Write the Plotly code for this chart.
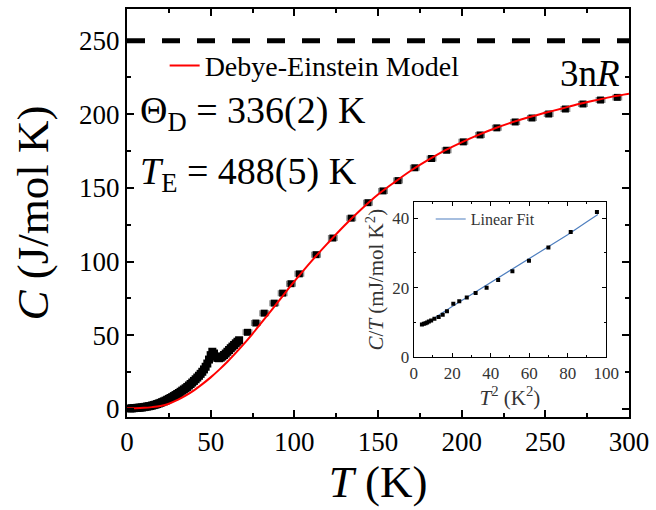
import plotly.graph_objects as go

# ---- main data: dense low-T heat capacity ----
T_dense = list(range(2, 68))
C_dense = [0.3, 0.4, 0.5, 0.6, 0.7, 0.8, 0.9, 1.0, 1.2, 1.4, 1.6, 1.8, 2.0, 2.3, 2.6, 2.9,
           3.3, 3.7, 4.1, 4.6, 5.1, 5.6, 6.2, 6.8, 7.4, 8.0, 8.7, 9.4, 10.1, 10.8, 11.6,
           12.4, 13.2, 14.0, 14.9, 15.9, 16.9, 17.9, 19.0, 20.1, 21.3, 22.5, 23.8, 25.2,
           26.8, 28.6, 30.8, 33.5, 36.5, 38.8, 37.6, 35.5, 34.6, 34.4, 34.8, 35.6, 36.6,
           37.6, 38.8, 40.0, 41.2, 42.3, 43.4, 44.5, 45.6, 46.6]

# ---- main data: sparse high-T points ----
T_high = [72, 77, 82, 88, 93, 98, 103, 113, 123, 134, 144, 153, 162, 172, 182, 191,
          201, 211, 221, 232, 242, 252, 262, 272.5, 283, 293]
C_high = [52, 58.3, 65, 71.8, 78.6, 85, 91.7, 104.7, 116, 129.5, 140, 148, 155, 163.7,
          170, 175.6, 181.3, 186, 190.8, 194.8, 197.5, 200.2, 203.6, 207, 209.7, 211.5]
T_err = [2.5] * len(T_high)

# ---- Debye-Einstein model curve ----
T_model = [0, 5, 10, 15, 20, 25, 30, 35, 40, 45, 50, 55, 60, 65, 70, 75, 80, 90, 100,
           110, 120, 130, 140, 150, 160, 170, 180, 190, 200, 210, 220, 230, 240, 250,
           260, 270, 280, 290, 300]
C_model = [0.5, 0.5, 0.7, 1.2, 2.0, 3.5, 6.0, 9.0, 12.6, 16.8, 21.4, 26.5, 32.0, 38.0,
           44.3, 51.0, 58.0, 72.3, 86.5, 100.0, 112.5, 124.5, 135.5, 145.5, 154.0, 162.0,
           169.0, 175.5, 181.0, 186.0, 190.5, 194.5, 198.0, 201.0, 204.0, 207.0, 209.5,
           212.0, 214.0]

# ---- Dulong-Petit limit ----
T_limit = [0, 300]
C_limit = [250, 250]

# ---- inset data ----
T2_in = [4.3, 5.3, 6.2, 7.0, 7.9, 9.1, 10.8, 13.0, 15.1, 17.3, 20.6, 23.7, 27.6, 32.2,
         37.9, 43.9, 51.3, 59.9, 70.0, 81.6, 95.2]
CT_in = [9.45, 9.6, 9.8, 10.0, 10.3, 10.6, 11.1, 11.6, 12.2, 13.2, 15.4, 16.1, 17.2, 18.5,
         20.0, 22.2, 24.7, 27.7, 31.5, 36.0, 41.7]
T2_fit = [4.3, 10, 20, 30, 40, 50, 60, 70, 80, 90, 95.7]
CT_fit = [9.1, 11.0, 14.6, 18.0, 21.4, 24.9, 28.2, 31.7, 35.2, 38.9, 41.0]

x_ticks = [0, 50, 100, 150, 200, 250, 300]
y_ticks = [0, 50, 100, 150, 200, 250]
x2_ticks = [0, 20, 40, 60, 80, 100]
y2_ticks = [0, 20, 40]

FONT = "'Liberation Serif', 'Times New Roman', Times, serif"

fig = go.Figure()

fig.add_trace(go.Scatter(x=T_limit, y=C_limit, mode="lines", showlegend=False,
                         line=dict(color="black", width=5, dash="18px,17px"),
                         hoverinfo="skip"))
fig.add_trace(go.Scatter(x=T_dense, y=C_dense, mode="markers", showlegend=False,
                         marker=dict(symbol="square", size=8, color="black")))
fig.add_trace(go.Scatter(x=T_high, y=C_high, mode="markers", showlegend=False,
                         marker=dict(symbol="square", size=7, color="black"),
                         error_x=dict(type="data", array=T_err, color="#8a8a8a",
                                      thickness=1.5, width=3)))
fig.add_trace(go.Scatter(x=T_model, y=C_model, mode="lines", name="Debye-Einstein Model",
                         line=dict(color="red", width=2, shape="spline"),
                         legend="legend"))

fig.add_trace(go.Scatter(x=T2_fit, y=CT_fit, mode="lines", name="Linear Fit",
                         line=dict(color="#4f7fbf", width=1.2),
                         xaxis="x2", yaxis="y2", legend="legend2"))
fig.add_trace(go.Scatter(x=T2_in, y=CT_in, mode="markers", showlegend=False,
                         marker=dict(symbol="square", size=4, color="black"),
                         xaxis="x2", yaxis="y2"))

axis_common = dict(showgrid=False, zeroline=False, showline=True, linecolor="black",
                   mirror="allticks", ticks="inside", tickcolor="black")

fig.update_layout(
    width=656, height=510,
    margin=dict(l=127, r=23, t=7, b=93),
    paper_bgcolor="white", plot_bgcolor="white",
    font=dict(family=FONT, color="black"),
    xaxis=dict(**axis_common, range=[0, 300], tickvals=x_ticks, linewidth=2,
               tickwidth=2, ticklen=7,
               minor=dict(ticks="inside", dtick=25, tick0=0, ticklen=4, tickwidth=2,
                          tickcolor="black"),
               tickfont=dict(size=27, family=FONT),
               title=dict(text="<i>T</i> (K)", font=dict(size=45, family=FONT), standoff=2)),
    yaxis=dict(**axis_common, range=[-5.5, 271.5], tickvals=y_ticks, linewidth=2,
               tickwidth=2, ticklen=7,
               minor=dict(ticks="inside", dtick=25, tick0=0, ticklen=4, tickwidth=2,
                          tickcolor="black"),
               tickfont=dict(size=27, family=FONT),
               title=dict(text="<i>C</i> (J/mol K)", font=dict(size=45, family=FONT),
                          standoff=16)),
    xaxis2=dict(**axis_common, domain=[0.571, 0.9545], anchor="y2", range=[0, 100],
                tickvals=x2_ticks, linewidth=1, tickwidth=1, ticklen=4,
                minor=dict(ticks="inside", dtick=10, ticklen=2, tickwidth=1,
                           tickcolor="black"),
                tickfont=dict(size=17, family=FONT, color="#333"),
                title=dict(text="<i>T</i><sup>2</sup> (K<sup>2</sup>)",
                           font=dict(size=21, family=FONT, color="#333"), standoff=0)),
    yaxis2=dict(**axis_common, domain=[0.1463, 0.527], anchor="x2", range=[0, 44.6],
                tickvals=y2_ticks, linewidth=1, tickwidth=1, ticklen=4,
                minor=dict(ticks="inside", dtick=10, ticklen=2, tickwidth=1,
                           tickcolor="black"),
                tickfont=dict(size=17, family=FONT, color="#333"),
                title=dict(text="<i>C</i>/<i>T</i> (mJ/mol K<sup>2</sup>)",
                           font=dict(size=21, family=FONT, color="#333"), standoff=2)),
    legend=dict(x=0.075, y=0.861, xanchor="left", yanchor="middle",
                bgcolor="rgba(0,0,0,0)", font=dict(size=28, family=FONT)),
    legend2=dict(x=0.605, y=0.485, xanchor="left", yanchor="middle",
                 bgcolor="rgba(0,0,0,0)", font=dict(size=16, family=FONT, color="#333")),
    annotations=[
        dict(text="\u0398<sub>D</sub> = 336(2) K", xref="paper", yref="paper",
             x=(138 - 127) / 506, y=(417 - 112) / 410, xanchor="left", yanchor="middle",
             showarrow=False, font=dict(size=38, family=FONT)),
        dict(text="<i>T</i><sub>E</sub> = 488(5) K", xref="paper", yref="paper",
             x=(138 - 127) / 506, y=(417 - 173) / 410, xanchor="left", yanchor="middle",
             showarrow=False, font=dict(size=38, family=FONT)),
        dict(text="3n<i>R</i>", xref="paper", yref="paper",
             x=(626 - 127) / 506, y=(417 - 72) / 410, xanchor="right", yanchor="middle",
             showarrow=False, font=dict(size=37, family=FONT)),
    ],
)

fig.write_html("out.html")
